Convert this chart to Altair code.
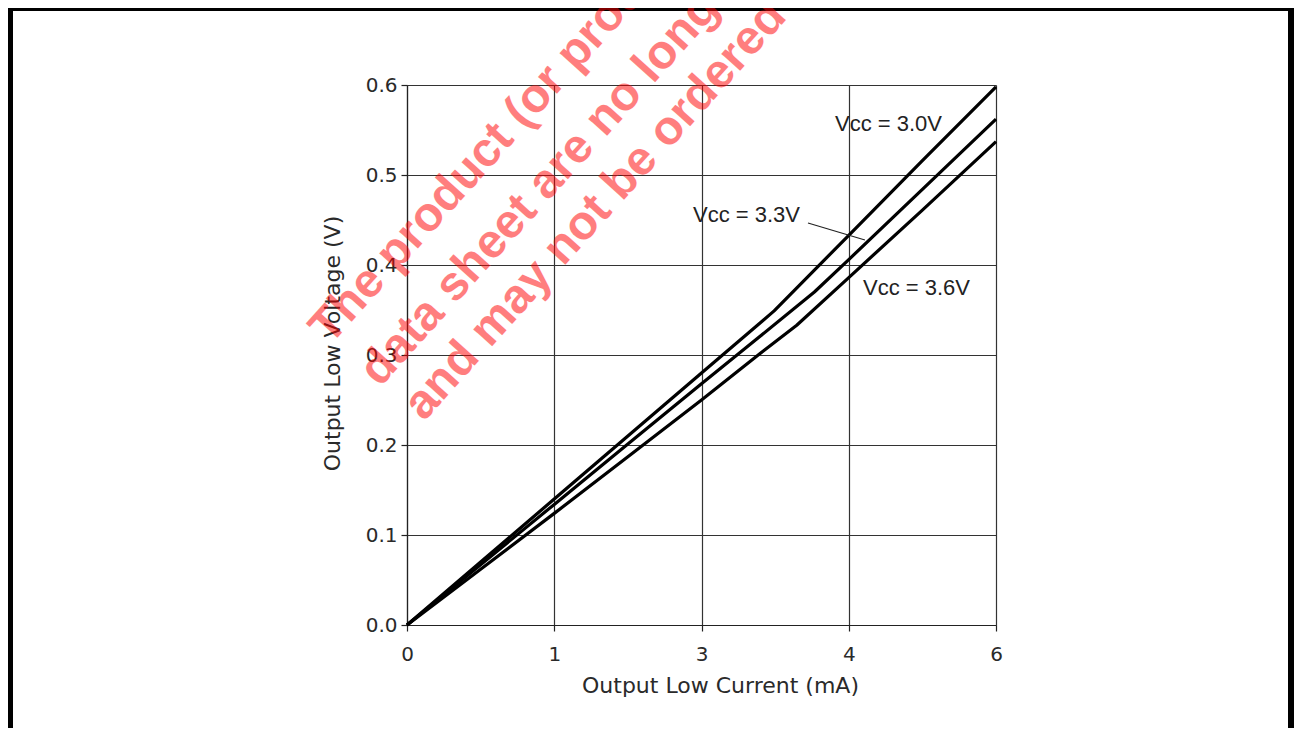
import json
import altair as alt
import pandas as pd

# ---- data ----
series_names = ["Vcc = 3.0V", "Vcc = 3.3V", "Vcc = 3.6V"]

current_30 = [0, 0.75, 1.5, 2.25, 3.0, 3.74, 4.5, 5.25, 6.0]
voltage_30 = [0, 0.070, 0.140, 0.210, 0.280, 0.349, 0.433, 0.516, 0.598]

current_33 = [0, 0.75, 1.5, 2.25, 3.0, 3.6, 4.15, 4.5, 5.25, 6.0]
voltage_33 = [0, 0.067, 0.134, 0.201, 0.268, 0.321, 0.370, 0.406, 0.484, 0.562]

current_36 = [0, 0.75, 1.5, 2.25, 3.0, 3.6, 3.97, 4.5, 5.25, 6.0]
voltage_36 = [0, 0.062, 0.124, 0.187, 0.250, 0.302, 0.333, 0.386, 0.461, 0.537]

x_tick_values = [0, 1.5, 3, 4.5, 6]
x_tick_labels = ["0", "1", "3", "4", "6"]
y_tick_values = [0.0, 0.1, 0.2, 0.3, 0.4, 0.5, 0.6]

label_text = ["Vcc = 3.0V", "Vcc = 3.3V", "Vcc = 3.6V"]
label_x = [4.36, 2.913, 4.645]
label_y = [0.557, 0.4556, 0.375]

pointer_x = [4.085]
pointer_y = [0.4467]
pointer_x2 = [4.665]
pointer_y2 = [0.4278]

watermark_lines = [
    "The product (or products) described in this",
    "data sheet are no longer manufactured",
    "and may not be ordered",
]

# ---- tables ----
rows = []
for name, xs, ys in zip(series_names,
                        [current_30, current_33, current_36],
                        [voltage_30, voltage_33, voltage_36]):
    for x, y in zip(xs, ys):
        rows.append({"series": name, "current": x, "voltage": y})
df = pd.DataFrame(rows)

labels_df = pd.DataFrame({"text": label_text, "x": label_x, "y": label_y})
pointer_df = pd.DataFrame({"x": pointer_x, "y": pointer_y, "x2": pointer_x2, "y2": pointer_y2})
one = pd.DataFrame({"k": [0]})

W, H = 589, 540
TOTAL_W, TOTAL_H = 1286, 720
PAD_L, PAD_T = 399, 77

x_scale = alt.Scale(domain=[0, 6], nice=False, zero=False)
y_scale = alt.Scale(domain=[0, 0.6], nice=False, zero=False)

label_expr = json.dumps(x_tick_labels) + "[round(datum.value / 1.5)]"

axis_font = "DejaVu Sans"
common = dict(
    grid=True, gridColor="#333333", gridWidth=1.2,
    domainColor="#222", domainWidth=1.2, tickColor="#222", tickSize=6, tickWidth=1.2,
    labelFont=axis_font, labelFontSize=20, labelColor="#2a2a2a",
    titleFont=axis_font, titleFontSize=22, titleFontWeight="normal", titleColor="#2a2a2a",
    labelFlush=False,
)

x_axis = alt.Axis(values=x_tick_values, labelExpr=label_expr, title="Output Low Current (mA)",
                  labelPadding=13, titleX=313, titleY=50, **common)
y_axis = alt.Axis(values=y_tick_values, format=".1f", title="Output Low Voltage (V)",
                  labelPadding=4, titleX=-63, titleY=258, **common)

lines = alt.Chart(df).mark_line(color="black", strokeWidth=3.2, strokeJoin="round").encode(
    x=alt.X("current:Q", scale=x_scale, axis=x_axis),
    y=alt.Y("voltage:Q", scale=y_scale, axis=y_axis),
    detail="series:N",
)

labels = alt.Chart(labels_df).mark_text(
    align="left", baseline="middle", font="Liberation Sans", fontSize=22, color="#222"
).encode(
    x=alt.X("x:Q", scale=x_scale),
    y=alt.Y("y:Q", scale=y_scale),
    text="text:N",
)

pointer = alt.Chart(pointer_df).mark_rule(color="#222", strokeWidth=1.2).encode(
    x=alt.X("x:Q", scale=x_scale), y=alt.Y("y:Q", scale=y_scale),
    x2="x2:Q", y2="y2:Q",
)

# page frame (decoration), kept inside the drawable canvas
frame = alt.Chart(one).mark_rect(filled=False, stroke="black", strokeWidth=6).encode(
    x=alt.value(-397), x2=alt.value(TOTAL_W - PAD_L - 3), y=alt.value(-77), y2=alt.value(800)
)

wm_style = dict(angle=312, align="left", baseline="alphabetic", font="Liberation Sans",
                fontWeight="bold", fontSize=48, color="#ff0000", opacity=0.5)
wm_pos = [(-77, 261), (-27, 303), (17, 337)]
watermarks = [
    alt.Chart(one).mark_text(text=t, **wm_style).encode(x=alt.value(px), y=alt.value(py))
    for t, (px, py) in zip(watermark_lines, wm_pos)
]

chart = alt.layer(frame, lines, pointer, labels, *watermarks).properties(
    width=W, height=H,
    autosize=alt.AutoSizeParams(type="none"),
    padding={"left": PAD_L, "top": PAD_T, "right": TOTAL_W - PAD_L - W,
             "bottom": TOTAL_H - PAD_T - H},
).configure_view(stroke="#333333", strokeWidth=1.2).configure(background="white")

chart.save("out.html", embed_options={"renderer": "svg", "actions": False})
